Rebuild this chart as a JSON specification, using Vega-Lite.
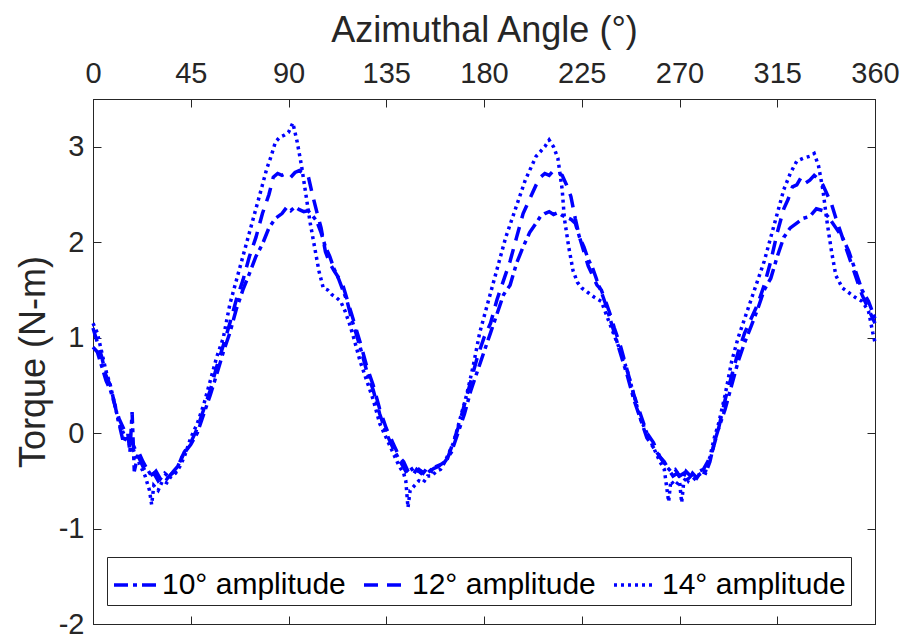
{
  "$schema": "https://vega.github.io/schema/vega-lite/v6.json",
  "width": 782,
  "height": 525,
  "autosize": "none",
  "padding": {"left": 93, "top": 99, "right": 30, "bottom": 18},
  "background": "white",
  "config": {
    "font": "Liberation Sans",
    "view": {"stroke": "#262626", "strokeWidth": 1},
    "axis": {"grid": false, "domainColor": "#262626", "tickColor": "#262626", "labelColor": "#262626", "titleColor": "#262626", "labelFont": "Liberation Sans", "titleFont": "Liberation Sans", "titleFontWeight": "normal", "labelFontSize": 29, "titleFontSize": 36, "tickSize": -8, "tickWidth": 1, "domainWidth": 1}
  },
  "data": {"values": [
    {"a":0,"t":0.9,"s":"10°"},{"a":2,"t":0.85,"s":"10°"},{"a":4,"t":0.7,"s":"10°"},{"a":6,"t":0.55,"s":"10°"},{"a":8,"t":0.45,"s":"10°"},{"a":10,"t":0.3,"s":"10°"},{"a":12,"t":0.1,"s":"10°"},{"a":14,"t":-0.1,"s":"10°"},{"a":16,"t":0.0,"s":"10°"},{"a":17,"t":-0.2,"s":"10°"},{"a":18,"t":0.22,"s":"10°"},{"a":19,"t":-0.4,"s":"10°"},{"a":21,"t":-0.2,"s":"10°"},{"a":23,"t":-0.3,"s":"10°"},{"a":25,"t":-0.38,"s":"10°"},{"a":27,"t":-0.45,"s":"10°"},{"a":29,"t":-0.4,"s":"10°"},{"a":31,"t":-0.48,"s":"10°"},{"a":33,"t":-0.42,"s":"10°"},{"a":35,"t":-0.46,"s":"10°"},{"a":37,"t":-0.4,"s":"10°"},{"a":39,"t":-0.35,"s":"10°"},{"a":41,"t":-0.25,"s":"10°"},{"a":43,"t":-0.18,"s":"10°"},{"a":45,"t":-0.12,"s":"10°"},{"a":48,"t":0.0,"s":"10°"},{"a":51,"t":0.2,"s":"10°"},{"a":54,"t":0.4,"s":"10°"},{"a":57,"t":0.62,"s":"10°"},{"a":60,"t":0.85,"s":"10°"},{"a":63,"t":1.05,"s":"10°"},{"a":66,"t":1.3,"s":"10°"},{"a":69,"t":1.5,"s":"10°"},{"a":72,"t":1.67,"s":"10°"},{"a":75,"t":1.85,"s":"10°"},{"a":78,"t":1.98,"s":"10°"},{"a":81,"t":2.15,"s":"10°"},{"a":84,"t":2.25,"s":"10°"},{"a":87,"t":2.3,"s":"10°"},{"a":89,"t":2.36,"s":"10°"},{"a":91,"t":2.33,"s":"10°"},{"a":93,"t":2.37,"s":"10°"},{"a":95,"t":2.34,"s":"10°"},{"a":97,"t":2.32,"s":"10°"},{"a":99,"t":2.33,"s":"10°"},{"a":101,"t":2.28,"s":"10°"},{"a":103,"t":2.22,"s":"10°"},{"a":105,"t":2.1,"s":"10°"},{"a":107,"t":1.95,"s":"10°"},{"a":109,"t":1.85,"s":"10°"},{"a":111,"t":1.72,"s":"10°"},{"a":113,"t":1.62,"s":"10°"},{"a":115,"t":1.5,"s":"10°"},{"a":117,"t":1.38,"s":"10°"},{"a":119,"t":1.2,"s":"10°"},{"a":121,"t":1.05,"s":"10°"},{"a":123,"t":0.9,"s":"10°"},{"a":126,"t":0.65,"s":"10°"},{"a":129,"t":0.45,"s":"10°"},{"a":132,"t":0.2,"s":"10°"},{"a":135,"t":0.0,"s":"10°"},{"a":138,"t":-0.15,"s":"10°"},{"a":141,"t":-0.28,"s":"10°"},{"a":144,"t":-0.4,"s":"10°"},{"a":146,"t":-0.35,"s":"10°"},{"a":148,"t":-0.42,"s":"10°"},{"a":150,"t":-0.38,"s":"10°"},{"a":152,"t":-0.42,"s":"10°"},{"a":154,"t":-0.36,"s":"10°"},{"a":156,"t":-0.4,"s":"10°"},{"a":158,"t":-0.35,"s":"10°"},{"a":160,"t":-0.33,"s":"10°"},{"a":162,"t":-0.3,"s":"10°"},{"a":165,"t":-0.2,"s":"10°"},{"a":168,"t":0.0,"s":"10°"},{"a":171,"t":0.2,"s":"10°"},{"a":174,"t":0.45,"s":"10°"},{"a":177,"t":0.65,"s":"10°"},{"a":180,"t":0.85,"s":"10°"},{"a":183,"t":1.05,"s":"10°"},{"a":186,"t":1.25,"s":"10°"},{"a":189,"t":1.45,"s":"10°"},{"a":192,"t":1.55,"s":"10°"},{"a":195,"t":1.78,"s":"10°"},{"a":198,"t":1.95,"s":"10°"},{"a":201,"t":2.1,"s":"10°"},{"a":204,"t":2.2,"s":"10°"},{"a":206,"t":2.27,"s":"10°"},{"a":208,"t":2.3,"s":"10°"},{"a":210,"t":2.32,"s":"10°"},{"a":212,"t":2.29,"s":"10°"},{"a":214,"t":2.31,"s":"10°"},{"a":216,"t":2.28,"s":"10°"},{"a":218,"t":2.26,"s":"10°"},{"a":220,"t":2.24,"s":"10°"},{"a":222,"t":2.2,"s":"10°"},{"a":224,"t":2.05,"s":"10°"},{"a":226,"t":1.95,"s":"10°"},{"a":228,"t":1.82,"s":"10°"},{"a":230,"t":1.73,"s":"10°"},{"a":232,"t":1.6,"s":"10°"},{"a":234,"t":1.48,"s":"10°"},{"a":236,"t":1.35,"s":"10°"},{"a":238,"t":1.2,"s":"10°"},{"a":240,"t":1.05,"s":"10°"},{"a":243,"t":0.82,"s":"10°"},{"a":246,"t":0.6,"s":"10°"},{"a":249,"t":0.35,"s":"10°"},{"a":252,"t":0.15,"s":"10°"},{"a":255,"t":-0.05,"s":"10°"},{"a":258,"t":-0.15,"s":"10°"},{"a":261,"t":-0.25,"s":"10°"},{"a":264,"t":-0.35,"s":"10°"},{"a":266,"t":-0.4,"s":"10°"},{"a":268,"t":-0.38,"s":"10°"},{"a":270,"t":-0.45,"s":"10°"},{"a":272,"t":-0.42,"s":"10°"},{"a":274,"t":-0.5,"s":"10°"},{"a":276,"t":-0.42,"s":"10°"},{"a":278,"t":-0.47,"s":"10°"},{"a":280,"t":-0.4,"s":"10°"},{"a":282,"t":-0.42,"s":"10°"},{"a":284,"t":-0.3,"s":"10°"},{"a":286,"t":-0.1,"s":"10°"},{"a":288,"t":0.05,"s":"10°"},{"a":291,"t":0.25,"s":"10°"},{"a":294,"t":0.5,"s":"10°"},{"a":297,"t":0.75,"s":"10°"},{"a":300,"t":0.95,"s":"10°"},{"a":303,"t":1.12,"s":"10°"},{"a":306,"t":1.3,"s":"10°"},{"a":309,"t":1.5,"s":"10°"},{"a":312,"t":1.62,"s":"10°"},{"a":315,"t":1.85,"s":"10°"},{"a":318,"t":2.05,"s":"10°"},{"a":321,"t":2.15,"s":"10°"},{"a":324,"t":2.2,"s":"10°"},{"a":327,"t":2.25,"s":"10°"},{"a":330,"t":2.27,"s":"10°"},{"a":333,"t":2.35,"s":"10°"},{"a":336,"t":2.33,"s":"10°"},{"a":339,"t":2.25,"s":"10°"},{"a":342,"t":2.15,"s":"10°"},{"a":345,"t":2.05,"s":"10°"},{"a":348,"t":1.9,"s":"10°"},{"a":351,"t":1.7,"s":"10°"},{"a":354,"t":1.5,"s":"10°"},{"a":357,"t":1.38,"s":"10°"},{"a":360,"t":1.2,"s":"10°"},
    {"a":0,"t":1.1,"s":"12°"},{"a":2,"t":0.95,"s":"12°"},{"a":4,"t":0.8,"s":"12°"},{"a":6,"t":0.6,"s":"12°"},{"a":8,"t":0.5,"s":"12°"},{"a":10,"t":0.3,"s":"12°"},{"a":12,"t":0.15,"s":"12°"},{"a":14,"t":0.05,"s":"12°"},{"a":16,"t":-0.05,"s":"12°"},{"a":18,"t":-0.1,"s":"12°"},{"a":20,"t":-0.2,"s":"12°"},{"a":22,"t":-0.3,"s":"12°"},{"a":24,"t":-0.4,"s":"12°"},{"a":26,"t":-0.45,"s":"12°"},{"a":28,"t":-0.42,"s":"12°"},{"a":30,"t":-0.5,"s":"12°"},{"a":32,"t":-0.45,"s":"12°"},{"a":34,"t":-0.48,"s":"12°"},{"a":36,"t":-0.43,"s":"12°"},{"a":38,"t":-0.4,"s":"12°"},{"a":40,"t":-0.3,"s":"12°"},{"a":42,"t":-0.2,"s":"12°"},{"a":45,"t":-0.1,"s":"12°"},{"a":48,"t":0.05,"s":"12°"},{"a":51,"t":0.25,"s":"12°"},{"a":54,"t":0.45,"s":"12°"},{"a":57,"t":0.7,"s":"12°"},{"a":60,"t":0.92,"s":"12°"},{"a":63,"t":1.15,"s":"12°"},{"a":66,"t":1.4,"s":"12°"},{"a":69,"t":1.6,"s":"12°"},{"a":72,"t":1.85,"s":"12°"},{"a":75,"t":2.05,"s":"12°"},{"a":78,"t":2.3,"s":"12°"},{"a":81,"t":2.5,"s":"12°"},{"a":83,"t":2.68,"s":"12°"},{"a":85,"t":2.72,"s":"12°"},{"a":87,"t":2.7,"s":"12°"},{"a":89,"t":2.72,"s":"12°"},{"a":91,"t":2.68,"s":"12°"},{"a":93,"t":2.73,"s":"12°"},{"a":95,"t":2.75,"s":"12°"},{"a":97,"t":2.72,"s":"12°"},{"a":99,"t":2.7,"s":"12°"},{"a":101,"t":2.5,"s":"12°"},{"a":103,"t":2.32,"s":"12°"},{"a":105,"t":2.15,"s":"12°"},{"a":107,"t":1.9,"s":"12°"},{"a":109,"t":1.78,"s":"12°"},{"a":111,"t":1.7,"s":"12°"},{"a":113,"t":1.63,"s":"12°"},{"a":115,"t":1.55,"s":"12°"},{"a":117,"t":1.4,"s":"12°"},{"a":119,"t":1.25,"s":"12°"},{"a":121,"t":1.1,"s":"12°"},{"a":123,"t":0.95,"s":"12°"},{"a":126,"t":0.7,"s":"12°"},{"a":129,"t":0.5,"s":"12°"},{"a":132,"t":0.25,"s":"12°"},{"a":135,"t":0.05,"s":"12°"},{"a":138,"t":-0.1,"s":"12°"},{"a":141,"t":-0.25,"s":"12°"},{"a":143,"t":-0.3,"s":"12°"},{"a":145,"t":-0.4,"s":"12°"},{"a":147,"t":-0.45,"s":"12°"},{"a":149,"t":-0.38,"s":"12°"},{"a":151,"t":-0.42,"s":"12°"},{"a":153,"t":-0.35,"s":"12°"},{"a":155,"t":-0.4,"s":"12°"},{"a":157,"t":-0.37,"s":"12°"},{"a":159,"t":-0.35,"s":"12°"},{"a":161,"t":-0.32,"s":"12°"},{"a":163,"t":-0.28,"s":"12°"},{"a":165,"t":-0.15,"s":"12°"},{"a":168,"t":0.05,"s":"12°"},{"a":171,"t":0.3,"s":"12°"},{"a":174,"t":0.55,"s":"12°"},{"a":177,"t":0.8,"s":"12°"},{"a":180,"t":1.0,"s":"12°"},{"a":183,"t":1.15,"s":"12°"},{"a":186,"t":1.4,"s":"12°"},{"a":189,"t":1.6,"s":"12°"},{"a":192,"t":1.8,"s":"12°"},{"a":195,"t":2.05,"s":"12°"},{"a":198,"t":2.3,"s":"12°"},{"a":201,"t":2.45,"s":"12°"},{"a":204,"t":2.6,"s":"12°"},{"a":206,"t":2.68,"s":"12°"},{"a":208,"t":2.72,"s":"12°"},{"a":210,"t":2.7,"s":"12°"},{"a":212,"t":2.75,"s":"12°"},{"a":214,"t":2.72,"s":"12°"},{"a":216,"t":2.7,"s":"12°"},{"a":218,"t":2.6,"s":"12°"},{"a":220,"t":2.48,"s":"12°"},{"a":222,"t":2.25,"s":"12°"},{"a":224,"t":2.05,"s":"12°"},{"a":226,"t":1.9,"s":"12°"},{"a":228,"t":1.75,"s":"12°"},{"a":230,"t":1.65,"s":"12°"},{"a":232,"t":1.55,"s":"12°"},{"a":234,"t":1.5,"s":"12°"},{"a":236,"t":1.38,"s":"12°"},{"a":238,"t":1.25,"s":"12°"},{"a":240,"t":1.1,"s":"12°"},{"a":243,"t":0.9,"s":"12°"},{"a":246,"t":0.65,"s":"12°"},{"a":249,"t":0.4,"s":"12°"},{"a":252,"t":0.2,"s":"12°"},{"a":255,"t":0.0,"s":"12°"},{"a":258,"t":-0.1,"s":"12°"},{"a":261,"t":-0.25,"s":"12°"},{"a":263,"t":-0.3,"s":"12°"},{"a":265,"t":-0.38,"s":"12°"},{"a":267,"t":-0.45,"s":"12°"},{"a":269,"t":-0.42,"s":"12°"},{"a":271,"t":-0.5,"s":"12°"},{"a":273,"t":-0.4,"s":"12°"},{"a":275,"t":-0.45,"s":"12°"},{"a":277,"t":-0.42,"s":"12°"},{"a":279,"t":-0.4,"s":"12°"},{"a":281,"t":-0.38,"s":"12°"},{"a":283,"t":-0.3,"s":"12°"},{"a":285,"t":-0.2,"s":"12°"},{"a":288,"t":0.05,"s":"12°"},{"a":291,"t":0.35,"s":"12°"},{"a":294,"t":0.6,"s":"12°"},{"a":297,"t":0.85,"s":"12°"},{"a":300,"t":1.05,"s":"12°"},{"a":303,"t":1.2,"s":"12°"},{"a":306,"t":1.35,"s":"12°"},{"a":309,"t":1.55,"s":"12°"},{"a":312,"t":1.8,"s":"12°"},{"a":315,"t":2.1,"s":"12°"},{"a":318,"t":2.35,"s":"12°"},{"a":320,"t":2.45,"s":"12°"},{"a":322,"t":2.58,"s":"12°"},{"a":324,"t":2.6,"s":"12°"},{"a":326,"t":2.68,"s":"12°"},{"a":328,"t":2.62,"s":"12°"},{"a":330,"t":2.65,"s":"12°"},{"a":332,"t":2.7,"s":"12°"},{"a":334,"t":2.66,"s":"12°"},{"a":336,"t":2.6,"s":"12°"},{"a":338,"t":2.5,"s":"12°"},{"a":340,"t":2.4,"s":"12°"},{"a":342,"t":2.25,"s":"12°"},{"a":345,"t":2.05,"s":"12°"},{"a":348,"t":1.85,"s":"12°"},{"a":351,"t":1.65,"s":"12°"},{"a":354,"t":1.45,"s":"12°"},{"a":357,"t":1.3,"s":"12°"},{"a":360,"t":1.15,"s":"12°"},
    {"a":0,"t":1.15,"s":"14°"},{"a":2,"t":1.05,"s":"14°"},{"a":4,"t":0.85,"s":"14°"},{"a":6,"t":0.65,"s":"14°"},{"a":8,"t":0.5,"s":"14°"},{"a":10,"t":0.3,"s":"14°"},{"a":12,"t":0.1,"s":"14°"},{"a":14,"t":0.0,"s":"14°"},{"a":16,"t":-0.1,"s":"14°"},{"a":18,"t":-0.15,"s":"14°"},{"a":20,"t":-0.25,"s":"14°"},{"a":22,"t":-0.35,"s":"14°"},{"a":24,"t":-0.45,"s":"14°"},{"a":26,"t":-0.6,"s":"14°"},{"a":27,"t":-0.75,"s":"14°"},{"a":28,"t":-0.55,"s":"14°"},{"a":30,"t":-0.6,"s":"14°"},{"a":32,"t":-0.5,"s":"14°"},{"a":34,"t":-0.52,"s":"14°"},{"a":36,"t":-0.45,"s":"14°"},{"a":38,"t":-0.42,"s":"14°"},{"a":40,"t":-0.35,"s":"14°"},{"a":42,"t":-0.25,"s":"14°"},{"a":45,"t":-0.05,"s":"14°"},{"a":48,"t":0.1,"s":"14°"},{"a":51,"t":0.3,"s":"14°"},{"a":54,"t":0.55,"s":"14°"},{"a":57,"t":0.8,"s":"14°"},{"a":60,"t":1.0,"s":"14°"},{"a":63,"t":1.35,"s":"14°"},{"a":66,"t":1.6,"s":"14°"},{"a":69,"t":1.85,"s":"14°"},{"a":72,"t":2.1,"s":"14°"},{"a":75,"t":2.35,"s":"14°"},{"a":78,"t":2.6,"s":"14°"},{"a":80,"t":2.77,"s":"14°"},{"a":82,"t":2.9,"s":"14°"},{"a":84,"t":3.05,"s":"14°"},{"a":86,"t":3.1,"s":"14°"},{"a":88,"t":3.12,"s":"14°"},{"a":90,"t":3.15,"s":"14°"},{"a":92,"t":3.25,"s":"14°"},{"a":94,"t":3.05,"s":"14°"},{"a":96,"t":2.8,"s":"14°"},{"a":98,"t":2.5,"s":"14°"},{"a":100,"t":2.2,"s":"14°"},{"a":102,"t":1.95,"s":"14°"},{"a":104,"t":1.7,"s":"14°"},{"a":106,"t":1.52,"s":"14°"},{"a":108,"t":1.5,"s":"14°"},{"a":110,"t":1.45,"s":"14°"},{"a":112,"t":1.42,"s":"14°"},{"a":114,"t":1.38,"s":"14°"},{"a":116,"t":1.28,"s":"14°"},{"a":118,"t":1.15,"s":"14°"},{"a":120,"t":1.0,"s":"14°"},{"a":123,"t":0.75,"s":"14°"},{"a":126,"t":0.55,"s":"14°"},{"a":129,"t":0.35,"s":"14°"},{"a":132,"t":0.1,"s":"14°"},{"a":135,"t":-0.05,"s":"14°"},{"a":138,"t":-0.2,"s":"14°"},{"a":141,"t":-0.35,"s":"14°"},{"a":143,"t":-0.42,"s":"14°"},{"a":144,"t":-0.5,"s":"14°"},{"a":145,"t":-0.78,"s":"14°"},{"a":146,"t":-0.6,"s":"14°"},{"a":148,"t":-0.55,"s":"14°"},{"a":150,"t":-0.5,"s":"14°"},{"a":152,"t":-0.52,"s":"14°"},{"a":154,"t":-0.45,"s":"14°"},{"a":156,"t":-0.45,"s":"14°"},{"a":158,"t":-0.4,"s":"14°"},{"a":160,"t":-0.38,"s":"14°"},{"a":162,"t":-0.3,"s":"14°"},{"a":164,"t":-0.2,"s":"14°"},{"a":166,"t":-0.1,"s":"14°"},{"a":169,"t":0.15,"s":"14°"},{"a":172,"t":0.4,"s":"14°"},{"a":175,"t":0.7,"s":"14°"},{"a":178,"t":1.05,"s":"14°"},{"a":181,"t":1.3,"s":"14°"},{"a":184,"t":1.55,"s":"14°"},{"a":187,"t":1.8,"s":"14°"},{"a":190,"t":2.05,"s":"14°"},{"a":193,"t":2.25,"s":"14°"},{"a":196,"t":2.45,"s":"14°"},{"a":199,"t":2.65,"s":"14°"},{"a":202,"t":2.8,"s":"14°"},{"a":204,"t":2.9,"s":"14°"},{"a":206,"t":2.95,"s":"14°"},{"a":208,"t":3.0,"s":"14°"},{"a":210,"t":3.07,"s":"14°"},{"a":212,"t":3.0,"s":"14°"},{"a":214,"t":2.88,"s":"14°"},{"a":216,"t":2.55,"s":"14°"},{"a":217,"t":2.25,"s":"14°"},{"a":219,"t":1.95,"s":"14°"},{"a":221,"t":1.7,"s":"14°"},{"a":223,"t":1.58,"s":"14°"},{"a":225,"t":1.52,"s":"14°"},{"a":228,"t":1.47,"s":"14°"},{"a":231,"t":1.42,"s":"14°"},{"a":234,"t":1.38,"s":"14°"},{"a":237,"t":1.2,"s":"14°"},{"a":240,"t":1.02,"s":"14°"},{"a":243,"t":0.85,"s":"14°"},{"a":246,"t":0.65,"s":"14°"},{"a":249,"t":0.4,"s":"14°"},{"a":252,"t":0.15,"s":"14°"},{"a":255,"t":0.0,"s":"14°"},{"a":258,"t":-0.15,"s":"14°"},{"a":261,"t":-0.3,"s":"14°"},{"a":263,"t":-0.38,"s":"14°"},{"a":265,"t":-0.72,"s":"14°"},{"a":266,"t":-0.5,"s":"14°"},{"a":268,"t":-0.55,"s":"14°"},{"a":270,"t":-0.5,"s":"14°"},{"a":271,"t":-0.73,"s":"14°"},{"a":272,"t":-0.5,"s":"14°"},{"a":274,"t":-0.45,"s":"14°"},{"a":276,"t":-0.5,"s":"14°"},{"a":278,"t":-0.45,"s":"14°"},{"a":280,"t":-0.42,"s":"14°"},{"a":282,"t":-0.4,"s":"14°"},{"a":284,"t":-0.25,"s":"14°"},{"a":286,"t":-0.05,"s":"14°"},{"a":288,"t":0.1,"s":"14°"},{"a":291,"t":0.4,"s":"14°"},{"a":294,"t":0.75,"s":"14°"},{"a":297,"t":1.0,"s":"14°"},{"a":300,"t":1.2,"s":"14°"},{"a":303,"t":1.4,"s":"14°"},{"a":306,"t":1.6,"s":"14°"},{"a":309,"t":1.8,"s":"14°"},{"a":312,"t":2.05,"s":"14°"},{"a":315,"t":2.3,"s":"14°"},{"a":318,"t":2.55,"s":"14°"},{"a":321,"t":2.72,"s":"14°"},{"a":324,"t":2.85,"s":"14°"},{"a":327,"t":2.88,"s":"14°"},{"a":330,"t":2.9,"s":"14°"},{"a":332,"t":2.93,"s":"14°"},{"a":334,"t":2.8,"s":"14°"},{"a":336,"t":2.55,"s":"14°"},{"a":338,"t":2.2,"s":"14°"},{"a":340,"t":1.9,"s":"14°"},{"a":342,"t":1.65,"s":"14°"},{"a":345,"t":1.52,"s":"14°"},{"a":348,"t":1.47,"s":"14°"},{"a":351,"t":1.42,"s":"14°"},{"a":354,"t":1.38,"s":"14°"},{"a":357,"t":1.28,"s":"14°"},{"a":359,"t":1.05,"s":"14°"},{"a":360,"t":0.95,"s":"14°"}
  ]},
  "layer": [
    {
      "mark": {"type": "line", "color": "#0000ff", "strokeWidth": 3.5},
      "encoding": {
        "x": {"field": "a", "type": "quantitative", "scale": {"domain": [0, 360], "nice": false, "zero": false},
              "axis": {"orient": "top", "values": [0,45,90,135,180,225,270,315,360], "title": "Azimuthal Angle (°)", "labelPadding": 19, "titlePadding": 10, "labelFlush": false}},
        "y": {"field": "t", "type": "quantitative", "scale": {"domain": [-2, 3.5], "nice": false, "zero": false},
              "axis": {"orient": "left", "values": [-2,-1,0,1,2,3], "labelExpr": "'' + datum.value", "title": "Torque (N-m)", "labelPadding": 17, "titlePadding": 6}},
        "strokeDash": {"field": "s", "type": "nominal", "sort": ["10°","12°","14°"],
          "scale": {"domain": ["10°","12°","14°"], "range": [[14,5,4,5],[14,9],[3,4]]},
          "legend": {"orient": "none", "legendX": 14, "legendY": 458, "direction": "horizontal", "columns": 3, "title": null,
            "labelExpr": "datum.label + ' amplitude'", "labelFontSize": 30, "labelColor": "#000000", "labelLimit": 400,
            "symbolType": "stroke", "symbolSize": 1764, "symbolStrokeWidth": 3.5, "symbolStrokeColor": "#0000ff",
            "strokeColor": "#262626", "fillColor": "white", "padding": 5, "columnPadding": 11, "labelOffset": 4}}
      }
    },
    {
      "mark": {"type": "line", "opacity": 0},
      "encoding": {
        "x": {"field": "a", "type": "quantitative", "scale": {"domain": [0, 360], "nice": false, "zero": false},
              "axis": {"orient": "bottom", "values": [0,45,90,135,180,225,270,315,360], "labels": false, "title": null}},
        "y": {"field": "t", "type": "quantitative", "scale": {"domain": [-2, 3.5], "nice": false, "zero": false},
              "axis": {"orient": "right", "values": [-2,-1,0,1,2,3], "labels": false, "title": null}},
        "detail": {"field": "s"}
      }
    }
  ],
  "resolve": {"axis": {"x": "independent", "y": "independent"}}
}
